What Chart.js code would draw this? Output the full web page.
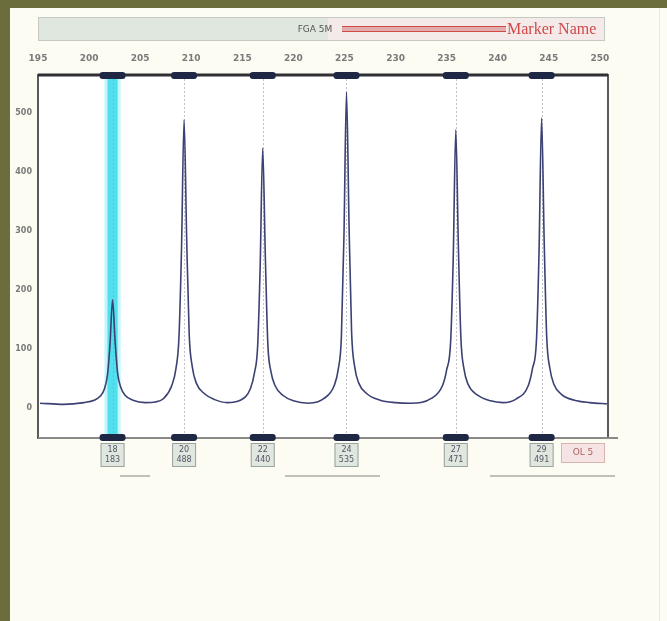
<!DOCTYPE html>
<html>
<head>
<meta charset="utf-8">
<script src="https://cdn.jsdelivr.net/npm/chart.js@4.4.1/dist/chart.umd.min.js"></script>
<style>
html,body{margin:0;padding:0;background:#fcfcf3;}
#wrap{position:absolute;left:0;top:0;width:667px;height:621px;}
</style>
</head>
<body>
<div id="wrap"><canvas id="c" width="667" height="621"></canvas></div>
<script>
// ---- data ----
const xTicks = [195,200,205,210,215,220,225,230,235,240,245,250];
const yTicks = [0,100,200,300,400,500];
const sizeBp = [195.2,197.5,199.5,200.5,201.1,201.5,201.8,202.05,202.3,202.55,202.8,203.1,203.5,204.3,205.5,
  206.5,207.3,208.1,208.5,208.8,209.05,209.3,209.55,209.8,210.1,210.5,211.3,212.3,213.5,
  214.8,215.8,216.2,216.5,216.75,217.0,217.25,217.5,217.8,218.2,219.0,220.0,221.5,
  223.0,224.0,224.4,224.7,224.95,225.2,225.45,225.7,226.0,226.4,227.2,228.5,230.0,231.5,
  233.5,234.6,235.0,235.4,235.65,235.9,236.15,236.4,236.7,237.1,238.0,239.3,240.5,
  241.8,243.0,243.4,243.8,244.05,244.3,244.55,244.8,245.1,245.5,246.3,247.5,249.0,250.8];
const signalRFU = [8,6,9,13,20,32,56,108,183,112,58,35,22,13,9,
  10,16,38,66,120,270,488,290,125,70,42,24,14,9,
  13,33,60,104,240,440,260,108,62,38,21,12,8,
  16,38,66,120,290,535,310,128,70,42,24,13,9,8,
  16,38,64,114,255,471,275,118,66,40,22,12,9,
  15,38,66,116,265,491,285,120,68,40,22,13,9,7];
const peakSizes = [202.3,209.3,217.0,225.2,235.9,244.3];
const alleleLabels = ["18","20","22","24","27","29"];
const peakHeights = [183,488,440,535,471,491];
const highlightRange = [201.7,202.9];
const markerName = "Marker Name";
const panelName = "FGA 5M";
const offLadderLabel = "OL 5";

const plotStyle = {
  line:'#3b4172', olive:'#6b6e3c', frame:'#5a5a5a', bin:'#1e2844',
  cyan:'rgba(70,222,236,0.9)', boxFill:'#dfe7df', boxText:'#556', red:'#d04848'
};

const decor = {
  id:'decor',
  beforeDraw(chart){
    const {ctx, chartArea:a} = chart;
    ctx.save();
    ctx.fillStyle = '#fcfcf3';
    ctx.fillRect(0,0,667,621);
    ctx.fillStyle = plotStyle.olive;
    ctx.fillRect(0,0,10,621);
    ctx.fillRect(0,0,667,8);
    ctx.fillStyle = '#e8e8dc';
    ctx.fillRect(659,8,1,613);
    ctx.fillStyle = '#ffffff';
    ctx.fillRect(a.left,a.top,a.right-a.left,a.bottom-a.top);
    ctx.restore();
  },
  beforeDatasetsDraw(chart){
    const {ctx, chartArea:a, scales:{x}} = chart;
    ctx.save();
    const x0 = x.getPixelForValue(highlightRange[0]);
    const x1 = x.getPixelForValue(highlightRange[1]);
    ctx.fillStyle = 'rgba(160,240,246,0.6)';
    ctx.fillRect(x0-2,a.top,x1-x0+4,a.bottom-a.top);
    ctx.fillStyle = plotStyle.cyan;
    ctx.fillRect(x0+1,a.top,x1-x0-2,a.bottom-a.top);
    ctx.strokeStyle = 'rgba(150,150,165,0.6)';
    ctx.lineWidth = 1;
    ctx.setLineDash([2,2]);
    peakSizes.forEach(s=>{
      const px = Math.round(x.getPixelForValue(s))+0.5;
      ctx.beginPath(); ctx.moveTo(px,a.top); ctx.lineTo(px,a.bottom); ctx.stroke();
    });
    ctx.restore();
  },
  afterDraw(chart){
    const {ctx, chartArea:a, scales:{x}} = chart;
    ctx.save();
    ctx.strokeStyle = plotStyle.frame;
    ctx.lineWidth = 2;
    ctx.strokeRect(a.left,a.top,a.right-a.left,a.bottom-a.top);
    ctx.strokeStyle = '#2f2f35';
    ctx.lineWidth = 3;
    ctx.beginPath(); ctx.moveTo(a.left,a.top); ctx.lineTo(a.right,a.top); ctx.stroke();
    ctx.strokeStyle = '#8a8a8a';
    ctx.lineWidth = 2;
    ctx.beginPath(); ctx.moveTo(a.left,a.bottom); ctx.lineTo(a.right+10,a.bottom); ctx.stroke();
    peakSizes.forEach((s,i)=>{
      const px = x.getPixelForValue(s);
      ctx.fillStyle = plotStyle.bin;
      ctx.beginPath(); ctx.roundRect(px-13,a.top-3,26,7,3); ctx.fill();
      ctx.beginPath(); ctx.roundRect(px-13,a.bottom-4,26,7,3); ctx.fill();
      ctx.fillStyle = plotStyle.boxFill;
      ctx.fillRect(px-12,a.bottom+5,24,24);
      ctx.strokeStyle = '#9aa3a0'; ctx.lineWidth = 1;
      ctx.strokeRect(px-12+0.5,a.bottom+5.5,23,23);
      ctx.fillStyle = plotStyle.boxText;
      ctx.font = '8px "DejaVu Sans"';
      ctx.textAlign = 'center'; ctx.textBaseline = 'middle';
      ctx.fillText(alleleLabels[i], px, a.bottom+12);
      ctx.fillText(String(Math.round(peakHeights[i])), px, a.bottom+22);
    });
    ctx.fillStyle = '#f6e4e4';
    ctx.fillRect(561,a.bottom+5,44,20);
    ctx.strokeStyle = '#d9b3b3';
    ctx.strokeRect(561.5,a.bottom+5.5,43,19);
    ctx.fillStyle = '#b06060';
    ctx.font = '9px "DejaVu Sans"';
    ctx.textAlign='center'; ctx.textBaseline='middle';
    ctx.fillText(offLadderLabel, 583, a.bottom+15);
    ctx.strokeStyle = 'rgba(120,120,120,0.45)'; ctx.lineWidth = 2;
    [[120,150],[285,380],[490,615]].forEach(([u,v])=>{
      ctx.beginPath(); ctx.moveTo(u,a.bottom+38); ctx.lineTo(v,a.bottom+38); ctx.stroke();
    });
    ctx.fillStyle = '#f4eaea';
    ctx.fillRect(38,17,567,24);
    ctx.fillStyle = plotStyle.boxFill;
    ctx.fillRect(38,17,290,24);
    ctx.strokeStyle = '#c4c9c4'; ctx.lineWidth = 1;
    ctx.strokeRect(38.5,17.5,566,23);
    ctx.fillStyle = '#555';
    ctx.font = '9px "DejaVu Sans"';
    ctx.textAlign='center'; ctx.textBaseline='middle';
    ctx.fillText(panelName, 315, 30);
    ctx.fillStyle = 'rgba(210,120,120,0.55)';
    ctx.fillRect(342,26,164,6);
    ctx.fillStyle = plotStyle.red;
    ctx.fillRect(342,26,164,1);
    ctx.fillRect(342,31,164,1);
    ctx.font = '16px "Liberation Serif"';
    ctx.textAlign='left';
    ctx.fillText(markerName, 507, 30);
    ctx.restore();
  }
};

new Chart(document.getElementById('c'), {
  type:'scatter',
  data:{datasets:[{
    data: sizeBp.map((v,i)=>({x:v,y:signalRFU[i]})),
    showLine:true, pointRadius:0, borderColor:plotStyle.line, borderWidth:1.6,
    cubicInterpolationMode:'monotone', fill:false
  }]},
  options:{
    responsive:false, animation:false, devicePixelRatio:1,
    layout:{padding:{left:12,top:45,right:59,bottom:183}},
    plugins:{legend:{display:false}, tooltip:{enabled:false}},
    scales:{
      x:{type:'linear', position:'top', min:195, max:250.8,
        afterBuildTicks:s=>{s.ticks = xTicks.map(v=>({value:v}));},
        afterFit:s=>{s.height = 30;},
        grid:{display:false, drawTicks:false}, border:{display:false},
        ticks:{padding:11, color:'#7a7a7a', font:{size:9, family:'DejaVu Sans', weight:'bold'}, maxRotation:0, autoSkip:false}
      },
      y:{type:'linear', min:-51, max:564,
        afterBuildTicks:s=>{s.ticks = yTicks.map(v=>({value:v}));},
        afterFit:s=>{s.width = 26;},
        grid:{display:false, drawTicks:false}, border:{display:false},
        ticks:{padding:6, color:'#7a7a7a', font:{size:8, family:'DejaVu Sans', weight:'bold'}}
      }
    }
  },
  plugins:[decor]
});
</script>
</body>
</html>
